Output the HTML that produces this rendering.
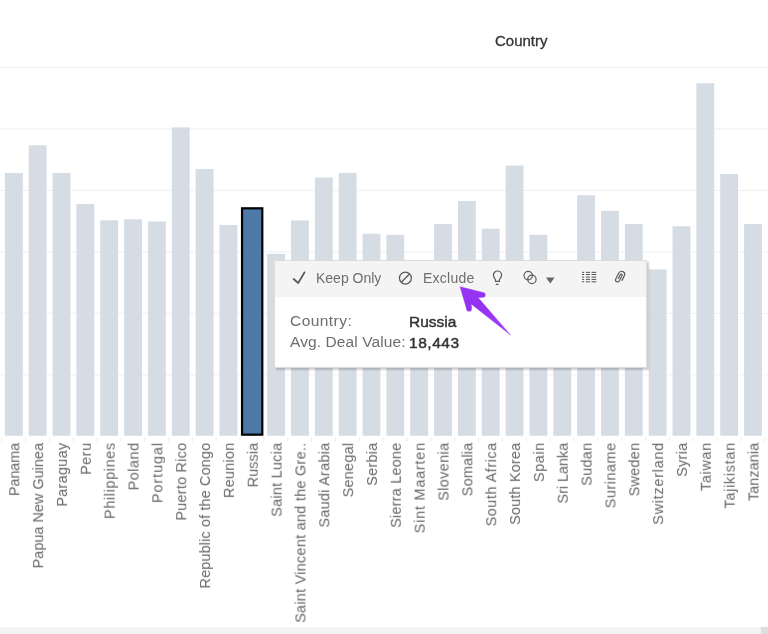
<!DOCTYPE html>
<html><head><meta charset="utf-8">
<style>
html,body{margin:0;padding:0;}
body{width:768px;height:634px;overflow:hidden;position:relative;background:#fff;font-family:"Liberation Sans",sans-serif;-webkit-font-smoothing:antialiased;}
.grid{position:absolute;left:0;width:768px;height:1px;background:#efefef;}
.bar{position:absolute;background:#d4dbe3;}
.sel{position:absolute;background:#4e79a7;border:2.2px solid #000;}
.tick{position:absolute;top:437px;width:1px;height:5px;background:#ececec;}
.lab{position:absolute;will-change:transform;left:0;top:0;width:200px;text-align:right;font-size:14.5px;line-height:16px;color:#686868;white-space:nowrap;transform-origin:0 0;}
.title{position:absolute;will-change:transform;left:495px;top:31px;font-size:15px;line-height:20px;color:#333;-webkit-text-stroke:0.3px #333;}
.scroll{position:absolute;left:0;top:627px;width:768px;height:7px;background:#f3f3f3;}
.thumb{position:absolute;left:761px;top:627px;width:7px;height:7px;background:#dedede;}
.tip{position:absolute;left:274px;top:260px;width:371px;height:106px;background:#fff;border:1px solid #dcdcdc;box-shadow:2px 2px 1.5px rgba(0,0,0,0.18);}
.tiphead{position:absolute;left:0;top:0;width:371px;height:35.5px;background:#f4f4f4;}
.t{position:absolute;white-space:nowrap;will-change:transform;}
.ov{position:absolute;left:0;top:0;}
</style></head><body>
<svg class="ov" width="768" height="634"><rect x="0" y="66.90" width="768" height="1" fill="#efefef"/><rect x="0" y="128.40" width="768" height="1" fill="#efefef"/><rect x="0" y="189.90" width="768" height="1" fill="#efefef"/><rect x="0" y="251.30" width="768" height="1" fill="#efefef"/><rect x="0" y="312.80" width="768" height="1" fill="#efefef"/><rect x="0" y="374.30" width="768" height="1" fill="#efefef"/></svg>
<svg class="ov" width="768" height="634"><rect x="4.90" y="173.00" width="17.85" height="262.75" fill="#d5dce4"/><rect x="28.74" y="145.30" width="17.85" height="290.45" fill="#d5dce4"/><rect x="52.59" y="173.00" width="17.85" height="262.75" fill="#d5dce4"/><rect x="76.44" y="204.00" width="17.85" height="231.75" fill="#d5dce4"/><rect x="100.28" y="220.30" width="17.85" height="215.45" fill="#d5dce4"/><rect x="124.12" y="219.30" width="17.85" height="216.45" fill="#d5dce4"/><rect x="147.97" y="221.50" width="17.85" height="214.25" fill="#d5dce4"/><rect x="171.81" y="127.40" width="17.85" height="308.35" fill="#d5dce4"/><rect x="195.66" y="169.00" width="17.85" height="266.75" fill="#d5dce4"/><rect x="219.50" y="225.00" width="17.85" height="210.75" fill="#d5dce4"/><rect x="242.75" y="208.20" width="19.05" height="227.05" fill="#4e79a7"/><rect x="242.05" y="208.30" width="20.25" height="226.35" fill="none" stroke="#000" stroke-width="2.2"/><rect x="267.19" y="253.80" width="17.85" height="181.95" fill="#d5dce4"/><rect x="291.04" y="220.40" width="17.85" height="215.35" fill="#d5dce4"/><rect x="314.88" y="177.50" width="17.85" height="258.25" fill="#d5dce4"/><rect x="338.73" y="172.90" width="17.85" height="262.85" fill="#d5dce4"/><rect x="362.57" y="233.75" width="17.85" height="202.00" fill="#d5dce4"/><rect x="386.42" y="234.80" width="17.85" height="200.95" fill="#d5dce4"/><rect x="410.26" y="300.00" width="17.85" height="135.75" fill="#d5dce4"/><rect x="434.11" y="224.00" width="17.85" height="211.75" fill="#d5dce4"/><rect x="457.95" y="201.00" width="17.85" height="234.75" fill="#d5dce4"/><rect x="481.80" y="228.75" width="17.85" height="207.00" fill="#d5dce4"/><rect x="505.64" y="165.60" width="17.85" height="270.15" fill="#d5dce4"/><rect x="529.49" y="234.80" width="17.85" height="200.95" fill="#d5dce4"/><rect x="553.33" y="300.00" width="17.85" height="135.75" fill="#d5dce4"/><rect x="577.18" y="195.20" width="17.85" height="240.55" fill="#d5dce4"/><rect x="601.02" y="210.80" width="17.85" height="224.95" fill="#d5dce4"/><rect x="624.87" y="224.00" width="17.85" height="211.75" fill="#d5dce4"/><rect x="648.71" y="269.40" width="17.85" height="166.35" fill="#d5dce4"/><rect x="672.56" y="226.30" width="17.85" height="209.45" fill="#d5dce4"/><rect x="696.40" y="83.25" width="17.85" height="352.50" fill="#d5dce4"/><rect x="720.25" y="174.00" width="17.85" height="261.75" fill="#d5dce4"/><rect x="744.09" y="224.00" width="17.85" height="211.75" fill="#d5dce4"/><rect x="1.05" y="437" width="1" height="5" fill="#eeeeee"/><rect x="24.90" y="437" width="1" height="5" fill="#eeeeee"/><rect x="48.75" y="437" width="1" height="5" fill="#eeeeee"/><rect x="72.60" y="437" width="1" height="5" fill="#eeeeee"/><rect x="96.45" y="437" width="1" height="5" fill="#eeeeee"/><rect x="120.30" y="437" width="1" height="5" fill="#eeeeee"/><rect x="144.15" y="437" width="1" height="5" fill="#eeeeee"/><rect x="168.00" y="437" width="1" height="5" fill="#eeeeee"/><rect x="191.85" y="437" width="1" height="5" fill="#eeeeee"/><rect x="215.70" y="437" width="1" height="5" fill="#eeeeee"/><rect x="239.55" y="437" width="1" height="5" fill="#eeeeee"/><rect x="263.40" y="437" width="1" height="5" fill="#eeeeee"/><rect x="287.25" y="437" width="1" height="5" fill="#eeeeee"/><rect x="311.10" y="437" width="1" height="5" fill="#eeeeee"/><rect x="334.95" y="437" width="1" height="5" fill="#eeeeee"/><rect x="358.80" y="437" width="1" height="5" fill="#eeeeee"/><rect x="382.65" y="437" width="1" height="5" fill="#eeeeee"/><rect x="406.50" y="437" width="1" height="5" fill="#eeeeee"/><rect x="430.35" y="437" width="1" height="5" fill="#eeeeee"/><rect x="454.20" y="437" width="1" height="5" fill="#eeeeee"/><rect x="478.05" y="437" width="1" height="5" fill="#eeeeee"/><rect x="501.90" y="437" width="1" height="5" fill="#eeeeee"/><rect x="525.75" y="437" width="1" height="5" fill="#eeeeee"/><rect x="549.60" y="437" width="1" height="5" fill="#eeeeee"/><rect x="573.45" y="437" width="1" height="5" fill="#eeeeee"/><rect x="597.30" y="437" width="1" height="5" fill="#eeeeee"/><rect x="621.15" y="437" width="1" height="5" fill="#eeeeee"/><rect x="645.00" y="437" width="1" height="5" fill="#eeeeee"/><rect x="668.85" y="437" width="1" height="5" fill="#eeeeee"/><rect x="692.70" y="437" width="1" height="5" fill="#eeeeee"/><rect x="716.55" y="437" width="1" height="5" fill="#eeeeee"/><rect x="740.40" y="437" width="1" height="5" fill="#eeeeee"/><rect x="764.25" y="437" width="1" height="5" fill="#eeeeee"/></svg>
<div class="lab" style="transform:translate(6.30px,642.8px) rotate(-90deg)"><span style="letter-spacing:-0.160px">Panam</span>a</div><div class="lab" style="transform:translate(30.14px,642.8px) rotate(-90deg)"><span style="letter-spacing:-0.013px">Papua New Guine</span>a</div><div class="lab" style="transform:translate(53.99px,642.8px) rotate(-90deg)"><span style="letter-spacing:0.257px">Paragua</span>y</div><div class="lab" style="transform:translate(77.84px,642.8px) rotate(-90deg)"><span style="letter-spacing:0.467px">Per</span>u</div><div class="lab" style="transform:translate(101.68px,642.8px) rotate(-90deg)"><span style="letter-spacing:0.600px">Philippine</span>s</div><div class="lab" style="transform:translate(125.53px,642.8px) rotate(-90deg)"><span style="letter-spacing:0.480px">Polan</span>d</div><div class="lab" style="transform:translate(149.37px,642.8px) rotate(-90deg)"><span style="letter-spacing:0.886px">Portuga</span>l</div><div class="lab" style="transform:translate(173.22px,642.8px) rotate(-90deg)"><span style="letter-spacing:0.200px">Puerto Ric</span>o</div><div class="lab" style="transform:translate(197.06px,642.8px) rotate(-90deg)"><span style="letter-spacing:0.110px">Republic of the Cong</span>o</div><div class="lab" style="transform:translate(220.91px,642.8px) rotate(-90deg)"><span style="letter-spacing:0.200px">Reunio</span>n</div><div class="lab" style="transform:translate(244.75px,642.8px) rotate(-90deg)"><span style="letter-spacing:0.040px">Russi</span>a</div><div class="lab" style="transform:translate(268.59px,642.8px) rotate(-90deg)"><span style="letter-spacing:0.220px">Saint Luci</span>a</div><div class="lab" style="transform:translate(292.44px,642.8px) rotate(-90deg)"><span style="letter-spacing:0.238px">Saint Vincent and the Gre.</span>.</div><div class="lab" style="transform:translate(316.28px,642.8px) rotate(-90deg)"><span style="letter-spacing:0.218px">Saudi Arabi</span>a</div><div class="lab" style="transform:translate(340.13px,642.8px) rotate(-90deg)"><span style="letter-spacing:0.233px">Senega</span>l</div><div class="lab" style="transform:translate(363.97px,642.8px) rotate(-90deg)"><span style="letter-spacing:0.200px">Serbi</span>a</div><div class="lab" style="transform:translate(387.82px,642.8px) rotate(-90deg)"><span style="letter-spacing:0.182px">Sierra Leon</span>e</div><div class="lab" style="transform:translate(411.66px,642.8px) rotate(-90deg)"><span style="letter-spacing:0.745px">Sint Maarte</span>n</div><div class="lab" style="transform:translate(435.51px,642.8px) rotate(-90deg)"><span style="letter-spacing:0.343px">Sloveni</span>a</div><div class="lab" style="transform:translate(459.35px,642.8px) rotate(-90deg)"><span style="letter-spacing:0.167px">Somali</span>a</div><div class="lab" style="transform:translate(483.20px,642.8px) rotate(-90deg)"><span style="letter-spacing:0.491px">South Afric</span>a</div><div class="lab" style="transform:translate(507.04px,642.8px) rotate(-90deg)"><span style="letter-spacing:0.140px">South Kore</span>a</div><div class="lab" style="transform:translate(530.89px,642.8px) rotate(-90deg)"><span style="letter-spacing:0.550px">Spai</span>n</div><div class="lab" style="transform:translate(554.73px,642.8px) rotate(-90deg)"><span style="letter-spacing:-0.075px">Sri Lank</span>a</div><div class="lab" style="transform:translate(578.58px,642.8px) rotate(-90deg)"><span style="letter-spacing:0.250px">Suda</span>n</div><div class="lab" style="transform:translate(602.42px,642.8px) rotate(-90deg)"><span style="letter-spacing:0.486px">Surinam</span>e</div><div class="lab" style="transform:translate(626.27px,642.8px) rotate(-90deg)"><span style="letter-spacing:0.240px">Swede</span>n</div><div class="lab" style="transform:translate(650.11px,642.8px) rotate(-90deg)"><span style="letter-spacing:0.700px">Switzerlan</span>d</div><div class="lab" style="transform:translate(673.96px,642.8px) rotate(-90deg)"><span style="letter-spacing:0.250px">Syri</span>a</div><div class="lab" style="transform:translate(697.80px,642.8px) rotate(-90deg)"><span style="letter-spacing:0.600px">Taiwa</span>n</div><div class="lab" style="transform:translate(721.65px,642.8px) rotate(-90deg)"><span style="letter-spacing:0.667px">Tajikista</span>n</div><div class="lab" style="transform:translate(745.49px,642.8px) rotate(-90deg)"><span style="letter-spacing:0.029px">Tanzani</span>a</div>
<div class="title">Country</div>
<div class="tip">
 <div class="tiphead"></div>
</div>
<div class="t" style="left:316.1px;top:267.7px;font-size:14px;line-height:20px;color:#6e6e6e">Keep Only</div>
<div class="t" style="left:423.1px;top:267.8px;font-size:14px;line-height:20px;color:#6e6e6e;letter-spacing:0.25px">Exclud<span style="letter-spacing:0">e</span></div>
<div class="t" style="left:290.2px;top:311.2px;font-size:15.5px;line-height:20.8px;color:#6e6e6e"><span style="letter-spacing:0.45px">Country</span>:<br><span style="letter-spacing:0.1px">Avg. Deal Value</span>:</div>
<div class="t" style="left:409.4px;top:311.5px;font-size:15.5px;line-height:20.6px;color:#333;-webkit-text-stroke:0.45px #333">Russia<br><span style="letter-spacing:0.55px">18,443</span></div>
<div class="scroll"></div><div class="thumb"></div>
<svg class="ov" width="768" height="634" viewBox="0 0 768 634">
 <g fill="none" stroke="#5a5a5a" stroke-linecap="round" stroke-linejoin="round">
  <path d="M293.6 279 L298.2 283 L304.6 272.3" stroke-width="1.7"/>
  <circle cx="405.4" cy="278.1" r="5.95" stroke-width="1.3"/>
  <path d="M401.3 282.2 L409.5 274" stroke-width="1.3" stroke-linecap="butt"/>
  <path d="M495.5 281.4 L495.5 280 C495.5 279 493.4 277.8 493.4 275.1 A4.1 4.1 0 0 1 501.6 275.1 C501.6 277.8 499.4 279 499.4 280 L499.4 281.4 Z" stroke-width="1.2"/>
  <path d="M496.2 284.3 L498.1 284.3" stroke-width="1.2"/>
  <circle cx="528.2" cy="275.6" r="4.2" stroke-width="1.2"/>
  <circle cx="531.9" cy="279.4" r="4.2" stroke-width="1.2"/>
  <g transform="translate(620.3 276.9) rotate(27)">
   <path d="M3.1 2.3 L3.1 -2.8 A3.1 3.1 0 0 0 -3.1 -2.8 L-3.1 3.9 A2.05 2.05 0 0 0 1.0 3.9 L1.0 -2.0 A1.0 1.0 0 0 0 -1.0 -2.0 L-1.0 2.2" stroke-width="1.2"/>
  </g>
 </g>
 <path d="M546 277.6 L554.6 277.6 L550.3 283.4 Z" fill="#666"/>
 <g fill="#555">
  <rect x="582" y="271.85" width="2.1" height="1"/><rect x="585.8" y="271.85" width="4.2" height="1"/><rect x="591.5" y="271.85" width="4.7" height="1"/>
  <rect x="582" y="274.0" width="2.1" height="1"/><rect x="585.8" y="274.0" width="4.2" height="1"/><rect x="591.5" y="274.0" width="4.7" height="1"/>
  <rect x="582" y="276.6" width="2.1" height="1"/><rect x="585.8" y="276.6" width="4.2" height="1"/><rect x="591.5" y="276.6" width="4.7" height="1"/>
  <rect x="582" y="278.9" width="2.1" height="1"/><rect x="585.8" y="278.9" width="4.2" height="1"/><rect x="591.5" y="278.9" width="4.7" height="1"/>
  <rect x="582" y="281.3" width="2.1" height="1"/><rect x="585.8" y="281.3" width="4.2" height="1"/><rect x="591.5" y="281.3" width="4.7" height="1"/>
 </g>
 <defs><linearGradient id="ag" x1="0" y1="0" x2="1" y2="1"><stop offset="0" stop-color="#9a36f6"/><stop offset="0.35" stop-color="#9430ef"/><stop offset="1" stop-color="#a23eff"/></linearGradient></defs><path d="M460.1 286.8 L483 292.6 A2.35 2.35 0 0 1 482.9 297.3 L478 297.5 L510.5 335 L471.2 304 L471.6 309 A2.5 2.5 0 0 1 466.5 308.6 Z" fill="url(#ag)" stroke="url(#ag)" stroke-width="0.5" stroke-linejoin="round"/>
</svg>
</body></html>
